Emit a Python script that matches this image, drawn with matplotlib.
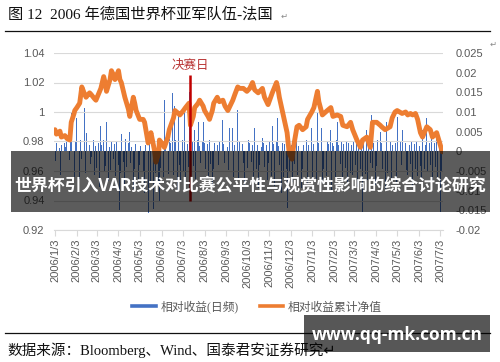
import numpy as np
import pandas as pd
import matplotlib
matplotlib.use("Agg")
import matplotlib.pyplot as plt
from matplotlib.patches import Rectangle
from matplotlib.lines import Line2D
from matplotlib.ticker import FuncFormatter
from matplotlib.font_manager import FontProperties

# ---------------- data ----------------
title = "图 12  2006 年德国世界杯亚军队伍-法国"
source = "数据来源：Bloomberg、Wind、国泰君安证券研究"
series_names = ["相对收益(日频)", "相对收益累计净值"]
final_label = "决赛日"
final_date = "2006-07-14"
overlay_title = "世界杯引入VAR技术对比赛公平性与观赏性影响的综合讨论研究"
watermark = "www.qq-mk.com.cn"

tick_labels = ["2006/1/3", "2006/2/3", "2006/3/3", "2006/4/3", "2006/5/3", "2006/6/3",
               "2006/7/3", "2006/8/3", "2006/9/3", "2006/10/3", "2006/11/3", "2006/12/3",
               "2007/1/3", "2007/2/3", "2007/3/3", "2007/4/3", "2007/5/3", "2007/6/3",
               "2007/7/3"]

# daily relative return (x 0.001), one per trading day from 2006-01-03
daily_rel_milli = [
    1.2, -2.5, 2.0, -4.0, 0.8, 3.0, -6.0, 1.5, -1.8, 2.2,
    -3.5, 1.0, 2.6, -5.0, 0.6, -2.2, 3.2, 10.0, -4.5, 1.8,
    -6.5, 2.4, 8.4, -3.0, 1.1, -7.0, 2.8, 8.4, -2.0, 1.4,
    11.0, -5.5, 2.0, 4.6, -8.0, 1.6, -3.2, 4.5, -1.5, 2.9,
    -6.0, 1.3, 6.0, -4.2, 2.1, -9.0, 6.5, -2.4, 1.7, 3.0,
    -5.0, 2.2, -3.8, 7.4, -7.5, 1.0, 6.0, -4.8, 2.6, -2.0,
    1.9, 5.5, -6.2, 2.3, -3.4, -15.0, 2.7, -5.6, 4.5, -2.8,
    1.5, -8.5, 3.1, -4.0, 2.0, -6.8, 4.8, -3.0, 1.2, -9.5,
    2.5, -4.4, 1.8, 5.0, -7.2, 2.2, -3.6, 1.4, 5.5, -5.2,
    2.8, -10.5, 1.6, 4.5, -6.0, -15.6, 3.0, -8.0, -4.5, 20.0,
    -14.6, 2.4, -5.5, 1.8, 5.5, -7.8, -12.5, 2.6, -4.2, 3.0,
    -6.5, 13.0, -9.0, 2.2, 5.5, -5.8, 3.2, -8.8, 2.0, 14.8,
    -6.0, 11.4, -4.6, 2.9, -10.0, 9.0, -3.5, 2.1, -7.4, 3.0,
    -5.0, 2.5, 11.5, -8.2, 1.9, -4.0, -9.5, 15.0, -6.6, 2.4,
    -3.8, 1.6, 5.5, -7.0, 2.8, 7.5, -5.4, 1.3, -3.0, 2.6,
    7.5, -8.5, 2.2, -4.6, 1.8, 8.5, -6.2, 2.9, -3.2, -9.0,
    6.0, -4.4, 2.0, -6.8, 1.5, 5.5, -3.6, 2.7, -7.6, 8.0,
    -5.0, 1.8, -3.0, 2.5, -8.0, 1.2, -4.8, 6.0, -2.6, 2.2,
    6.0, -6.4, 1.6, -3.4, 2.9, 10.5, -7.2, -4.0, 2.3, -5.6,
    1.9, -3.0, 2.6, -8.6, 1.4, -4.2, 3.0, -6.0, 2.0, -2.8,
    1.7, -7.0, 2.4, 6.0, -4.6, 1.5, -9.2, 2.8, -3.4, 1.2,
    3.5, -5.8, 2.1, -4.0, 1.6, -7.4, 5.5, -3.0, 2.5, -6.2,
    6.5, -4.2, 1.9, -8.8, 2.6, 8.4, -5.0, 1.4, -3.6, -10.5,
    2.2, 5.5, -6.6, 1.8, -4.4, 7.5, -14.5, 2.4, -5.2, 1.6,
    6.5, -7.8, 2.0, -3.2, 2.7, 8.7, -6.0, 1.3, 5.5, -9.4,
    2.3, -4.6, 1.7, 4.5, -5.4, 2.9, -8.2, 1.5, -3.0, 2.2,
    6.0, -6.8, 1.8, -4.0, 2.5, -7.0, 10.0, -5.6, 2.1, -3.8,
    6.0, -8.0, 1.6, -4.4, 5.5, -6.2, 2.6, -3.4, 1.9, 5.5,
    -9.8, 2.2, -4.8, 1.4, -6.4, 2.8, 7.5, -5.0, 1.7, -3.2,
    2.4, 5.5, -7.6, 1.8, -4.2, 2.6, 4.5, -8.4, 2.0, -5.4,
    1.5, 7.8, -6.0, 2.3, -3.6, 1.9, 6.0, -9.0, 2.7, -4.6,
    1.6, 7.8, -15.5, 2.2, -5.8, 1.4, 5.5, -7.2, 2.5, -3.0,
    -6.6, 9.2, -4.2, 2.0, -8.6, 1.8, -3.8, 2.9, -5.2, 5.0,
    -7.0, 2.1, -4.4, 1.5, -9.6, 2.6, 7.5, -5.6, 1.8, -3.4,
    2.4, -6.8, 1.6, 6.0, -4.0, 2.2, -8.2, 1.3, 8.7, -5.0,
    2.7, -3.6, 1.9, 5.5, -7.4, 2.0, -4.8, 5.5, -6.0, 1.5,
    -3.2, 2.6, 6.5, -8.8, 1.8, -4.6, 2.3, 5.5, -6.2, 1.4,
    -3.8, 2.5, -7.0, 5.5, -4.4, 1.7, -9.0, 8.4, -5.2, 2.1,
    -3.4, 1.6, 6.0, -7.6, 2.2, -4.0, 1.5, 4.5, -6.4, 2.0,
    -15.5, 1.8, -5.0,
]

# cumulative relative net value, sampled at trading-day indices
nav_day = [0, 2, 5, 7, 10, 13, 15, 17, 19, 20, 23, 25, 28, 30, 32, 35, 37, 40, 42, 47,
           49, 51, 53, 56, 58, 60, 61, 64, 66, 68, 71, 74, 76, 79, 81, 83, 86, 89, 91, 94,
           96, 98, 101, 103, 105, 106, 109, 111, 114, 116, 120, 122, 125, 127, 130, 133, 136, 138, 140, 142,
           145, 147, 150, 152, 155, 157, 159, 161, 164, 167, 170, 173, 175, 177, 180, 183, 185, 188, 191, 194,
           198, 200, 203, 206, 210, 213, 216, 220, 224, 226, 228, 231, 235, 238, 240, 242, 245, 248, 251, 254,
           256, 260, 263, 266, 268, 271, 276, 279, 282, 286, 289, 292, 296, 299, 302, 306, 309, 312, 316, 319,
           322, 326, 329, 331, 334, 339, 342, 344, 347, 352, 355, 358, 360, 363, 365, 368, 370, 373, 377, 380,
           383, 387, 390, 393]
nav_val = [0.988, 0.985, 0.987, 0.983, 0.984, 0.982, 0.981, 0.993, 0.999, 1.001, 1.003, 1.006, 1.017, 1.012, 1.010, 1.013, 1.012, 1.009, 1.008, 1.016,
           1.024, 1.020, 1.014, 1.022, 1.028, 1.024, 1.022, 1.028, 1.022, 1.020, 1.010, 1.002, 0.997, 1.010, 1.006, 1.001, 0.995, 0.995, 0.993, 0.979,
           0.982, 0.986, 0.974, 0.966, 0.972, 0.981, 0.978, 0.976, 0.983, 0.988, 0.996, 1.001, 0.999, 0.998, 1.001, 1.003, 1.006, 0.991, 0.997, 1.003,
           1.006, 1.008, 1.004, 1.001, 0.997, 0.995, 1.001, 1.006, 1.010, 1.007, 1.008, 1.004, 1.001, 1.003, 1.008, 1.012, 1.017, 1.016, 1.016, 1.014,
           1.016, 1.020, 1.015, 1.013, 1.016, 1.010, 1.005, 1.013, 1.020, 1.016, 1.010, 0.999, 0.986, 0.972, 0.968, 0.976, 0.990, 0.991, 0.988, 0.990,
           0.995, 1.000, 1.003, 1.014, 1.007, 0.998, 1.001, 1.003, 0.997, 0.998, 0.997, 0.991, 0.990, 0.993, 0.988, 0.981, 0.976, 0.981, 0.983, 0.976,
           0.993, 0.993, 0.991, 0.990, 0.988, 0.990, 0.996, 1.000, 1.001, 0.999, 1.000, 0.998, 0.999, 0.998, 0.999, 0.995, 0.986, 0.983, 0.990, 0.988,
           0.983, 0.986, 0.978, 0.973]

# ---------------- figure ----------------
W, H = 500, 362
fig = plt.figure(figsize=(W / 100, H / 100), dpi=100)
plt.rcParams['font.family'] = ['Liberation Sans', 'Noto Sans CJK SC', 'DejaVu Sans']

def fx(x):
    return x / W

def fy(y):
    return 1 - y / H

serif_cjk = ['Liberation Serif', 'Noto Sans CJK SC', 'DejaVu Sans']

bdays = pd.bdate_range('2006-01-03', periods=400)
bar_dates = bdays[:len(daily_rel_milli)]
bar_vals = np.array(daily_rel_milli) / 1000.0
nav_dates = bdays[nav_day]
tick_dates = pd.to_datetime(tick_labels, format='%Y/%m/%d')

ax = fig.add_axes([fx(54.3), fy(230), fx(443) - fx(54.3), (230 - 53) / H])
ax2 = ax.twinx()
ax.set_zorder(2)
ax2.set_zorder(1)
ax.patch.set_visible(False)

ax2.bar(bar_dates, bar_vals, width=1.0, color='#4472C4', linewidth=0)
ax.plot(nav_dates, nav_val, color='#ED7D31', lw=3.5, solid_joinstyle='round', solid_capstyle='round')

fd = pd.Timestamp(final_date)
ax.vlines(fd, 0.940, 1.025, color='#C00000', lw=1.8, zorder=4)
ax.text(fd, 1.0312, final_label, color='#B83232', fontsize=9, ha='center', va='center',
        family=serif_cjk)

ax.set_ylim(0.92, 1.04)
ax2.set_ylim(-0.02, 0.025)
ax.set_xlim(pd.Timestamp('2006-01-02'), pd.Timestamp('2007-07-07'))

ax.set_yticks(np.arange(0.92, 1.0401, 0.02))
ax2.set_yticks(np.arange(-0.02, 0.02501, 0.005))
ax.yaxis.set_major_formatter(FuncFormatter(lambda v, p: f"{round(v, 3):g}"))
ax2.yaxis.set_major_formatter(FuncFormatter(lambda v, p: f"{round(v, 4) + 0:g}"))
ax.yaxis.grid(True, color='#D9D9D9', lw=0.8)
ax.set_axisbelow(True)

ax.set_xticks(tick_dates)
ax.set_xticklabels(tick_labels, rotation=90)

for a in (ax, ax2):
    for s in a.spines.values():
        s.set_visible(False)
ax.spines['bottom'].set_visible(True)
ax.spines['bottom'].set_color('#D9D9D9')
ax.spines['bottom'].set_linewidth(0.8)

ax.tick_params(axis='y', length=0, pad=7, labelcolor='#595959', labelsize=8)
ax2.tick_params(axis='y', length=0, pad=9, labelcolor='#595959', labelsize=8)
ax.tick_params(axis='x', length=4, width=0.8, color='#D9D9D9', pad=2, labelcolor='#595959', labelsize=8)

# legend
handles = [Line2D([], [], color='#4472C4', lw=2.6), Line2D([], [], color='#ED7D31', lw=2.6)]
fig.legend(handles, series_names, loc='center', bbox_to_anchor=(fx(257), fy(307)), ncol=2,
           frameon=False, prop=FontProperties(family=serif_cjk, size=8.5), handlelength=2.0,
           handletextpad=0.4, columnspacing=1.8, labelcolor='#595959')

# title, rules, source
fig.text(fx(8), fy(14), title, fontsize=11, va='center', ha='left', family=serif_cjk, color='#111111')
fig.text(fx(281), fy(16), "↵", fontsize=6, va='center', ha='left', family=['DejaVu Sans'], color='#888888')
fig.text(fx(493), fy(44), "↵", fontsize=6, va='center', ha='center', family=['DejaVu Sans'], color='#888888')
fig.add_artist(Line2D([fx(5), fx(490)], [fy(31), fy(31)], color='#111111', lw=0.9))
fig.add_artist(Line2D([fx(5), fx(490)], [fy(333), fy(333)], color='#111111', lw=0.9))
fig.text(fx(7), fy(350), source + "↵", fontsize=10.5, va='center', ha='left', family=serif_cjk, color='#111111')

# overlays
fig.add_artist(Rectangle((fx(11), fy(212)), fx(490) - fx(11), (212 - 151) / H,
                         transform=fig.transFigure, facecolor='black', alpha=0.64,
                         edgecolor='none', zorder=10))
fig.text(fx(250), fy(185), overlay_title, fontsize=12.2, weight='bold', color='white',
         ha='center', va='center', family=['Noto Sans CJK SC', 'DejaVu Sans'], zorder=11)
fig.add_artist(Rectangle((fx(304), fy(352)), fx(490) - fx(304), (352 - 315) / H,
                         transform=fig.transFigure, facecolor='black', alpha=0.66,
                         edgecolor='none', zorder=10))
fig.text(fx(397), fy(335), watermark, fontsize=12.5, weight='bold', color='white',
         ha='center', va='center', family=['Open Sans', 'DejaVu Sans'], zorder=11)

fig.savefig('out.png', dpi=100)
